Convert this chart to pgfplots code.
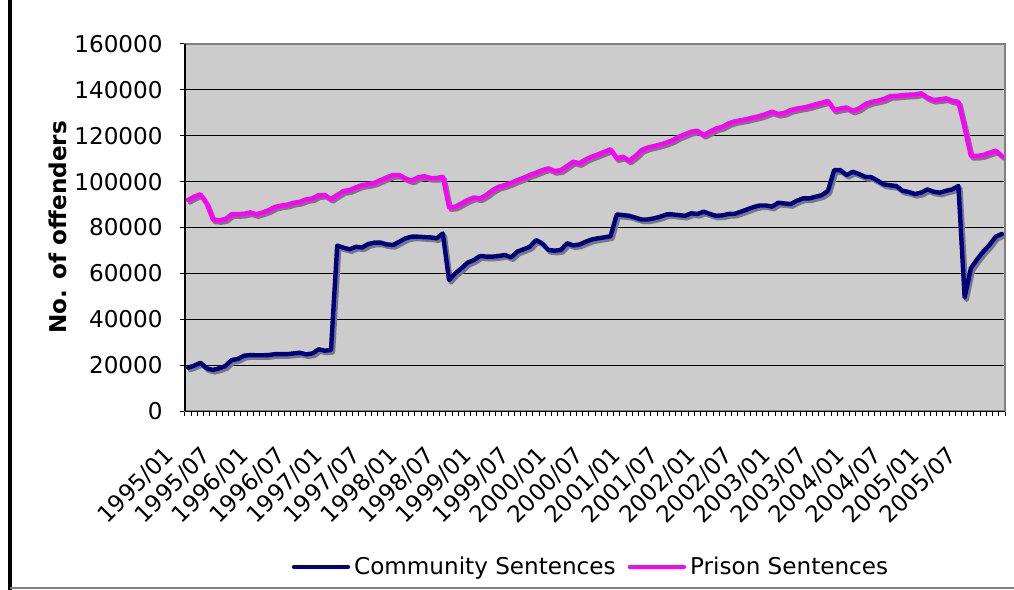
\documentclass[border=0pt]{standalone}
\usepackage{fontspec}
\setmainfont{DejaVu Sans}
\usepackage{pgfplots}
\pgfplotsset{compat=1.18}
\usepackage{pgfplotstable}

\definecolor{plotbg}{RGB}{204,204,204}
\definecolor{boxgray}{RGB}{128,128,128}
\definecolor{commblue}{RGB}{0,0,128}
\definecolor{prismag}{RGB}{255,0,255}
\definecolor{shadowgray}{RGB}{120,120,120}

% month index (0 = 1995/01), community, prison
\pgfplotstableread{
m comm pris
0 18900 92000
1 19800 93500
2 21000 94500
3 18600 90300
4 17900 83500
5 18600 83200
6 19600 83700
7 22200 85800
8 22700 85800
9 24100 86000
10 24400 86600
11 24300 85800
12 24300 86600
13 24400 87600
14 24800 89000
15 24800 89600
16 24800 90000
17 25100 90800
18 25400 91200
19 24700 92300
20 25100 92700
21 26900 94100
22 26300 94200
23 26600 92400
24 72100 94200
25 71200 95900
26 70500 96300
27 71600 97500
28 71300 98500
29 72800 98900
30 73400 99500
31 73400 100700
32 72600 101900
33 72400 102900
34 73800 102900
35 75300 101400
36 76000 100400
37 76000 101900
38 75800 102400
39 75700 101600
40 75300 101600
41 77400 102100
42 57100 88800
43 60000 89100
44 62200 90500
45 64700 92000
46 65800 93100
47 67600 92700
48 67300 94200
49 67300 96300
50 67600 97800
51 68000 98500
52 67000 99500
53 69500 100700
54 70500 101700
55 71600 102900
56 74500 103900
57 73100 105000
58 70200 105800
59 69900 104600
60 70200 105000
61 73100 106800
62 72200 108700
63 72600 108000
64 73800 109700
65 74800 110900
66 75300 111900
67 75700 113000
68 76200 114100
69 85700 110100
70 85400 110900
71 85100 109100
72 84300 111200
73 83500 113800
74 83500 114900
75 84000 115500
76 84700 116200
77 85700 117000
78 85700 118100
79 85400 119600
80 85100 120700
81 86200 121800
82 85900 122200
83 86900 120300
84 85900 121800
85 85100 123200
86 85300 123900
87 85900 125400
88 86000 126300
89 86900 126800
90 87900 127300
91 88900 128000
92 89600 128600
93 89600 129500
94 89100 130500
95 90800 129500
96 90500 130000
97 90200 131200
98 91700 131900
99 92700 132300
100 92700 132900
101 93400 133700
102 94100 134400
103 96000 135200
104 105000 131200
105 105000 131900
106 102900 132300
107 104300 130900
108 103300 131900
109 102100 133800
110 101900 134800
111 100400 135300
112 98800 136000
113 98400 137300
114 98100 137400
115 96000 137700
116 95500 137900
117 94600 138000
118 95200 138500
119 96600 136700
120 95600 135600
121 95200 135900
122 96000 136300
123 96600 135300
124 98100 134800
125 49500 123300
126 62200 111200
127 66100 111200
128 69500 111600
129 72400 112600
130 76000 113500
131 77200 111200
}\sentences

\begin{document}
\begin{tikzpicture}[font=\fontsize{11.6pt}{14pt}\selectfont]
\begin{axis}[
    name=ax,
    at={(0,0)}, anchor=south west,
    scale only axis,
    width=410bp, height=183.5bp,
    xmin=-0.5, xmax=131.5,
    ymin=0, ymax=160000,
    axis background/.style={fill=plotbg},
    axis line style={draw=boxgray, line width=0.75bp},
    tick align=outside,
    xtick pos=left, ytick pos=left,
    major tick length=2.5bp,
    tick style={black, line width=0.5bp},
    xtick={-0.5,0.5,...,131.5},
    xticklabels={},
    extra x ticks={0,6,...,126},
    extra x tick labels={1995/01,1995/07,1996/01,1996/07,1997/01,1997/07,1998/01,1998/07,1999/01,1999/07,2000/01,2000/07,2001/01,2001/07,2002/01,2002/07,2003/01,2003/07,2004/01,2004/07,2005/01,2005/07},
    extra x tick style={major tick length=0pt, grid=none},
    xticklabel style={xshift=-9bp, yshift=-20bp, rotate=45, anchor=east, inner sep=0pt},
    ytick={0,20000,...,160000},
    scaled y ticks=false,
    /pgf/number format/fixed,
    /pgf/number format/1000 sep={},
    /pgf/number format/assume math mode=true,
    yticklabel style={anchor=east, inner sep=0pt, xshift=-8.5bp},
    ymajorgrids,
    grid style={black, line width=0.5bp},
    ylabel={\bfseries No. of offenders},
    every axis y label/.style={at={(axis description cs:-0.155,0.5)}, rotate=90, anchor=center},
    legend columns=-1,
    legend style={at={(axis description cs:0.4963,-0.425)}, anchor=center, draw=none, fill=none,
        /tikz/every even column/.append style={column sep=4bp}},
    legend image code/.code={\draw[#1] (0bp,0bp) -- (27bp,0bp);},
    every axis plot/.append style={line join=round, line cap=round},
]
\addplot[shadowgray, line width=2.2bp, forget plot, xshift=1bp, yshift=-1.25bp] table[x=m, y=comm] {\sentences};
\addplot[shadowgray, line width=2.2bp, forget plot, xshift=1bp, yshift=-1.25bp] table[x=m, y=pris] {\sentences};
\addplot[commblue, line width=2.2bp] table[x=m, y=comm] {\sentences};
\addlegendentry{Community Sentences}
\addplot[prismag, line width=2.2bp] table[x=m, y=pris] {\sentences};
\addlegendentry{Prison Sentences}
\end{axis}
\draw[black, line width=1bp] (0,0) -- (0,183.5bp);
\draw[black, line width=0.5bp] (0,0) -- (410bp,0);
\draw[black, line width=1.75bp] (-87.5bp,-89.5bp) -- (-87.5bp,205.5bp);
\draw[boxgray, line width=0.75bp] (-87.5bp,-88.5bp) -- (414.5bp,-88.5bp);
\pgfresetboundingbox
\path (-92.5bp,-89.5bp) rectangle (414.5bp,205.5bp);
\end{tikzpicture}
\end{document}
